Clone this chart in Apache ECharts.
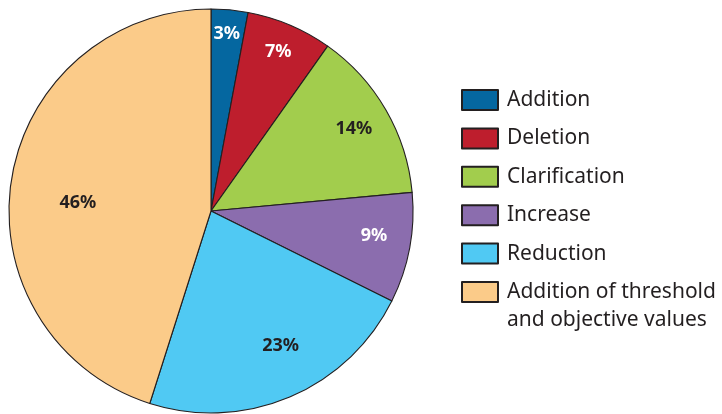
<!DOCTYPE html>
<html>
<head>
<meta charset="utf-8">
<script src="https://cdn.jsdelivr.net/npm/echarts@6/dist/echarts.min.js"></script>
<style>
html,body{margin:0;padding:0;background:#fff;}
#chart{width:722px;height:414px;}
</style>
</head>
<body>
<div id="chart"></div>
<script>
const categories = ['Addition', 'Deletion', 'Clarification', 'Increase', 'Reduction', 'Addition of threshold\nand objective values'];
const values = [3, 7, 14, 9, 23, 46];
const colors = ['#0567a0', '#be1e2d', '#a2cd4d', '#8b6dae', '#50c9f3', '#fbcb89'];
const labelColors = ['#ffffff', '#ffffff', '#231f20', '#ffffff', '#231f20', '#231f20'];
const labelFrac = [0.881, 0.854, 0.817, 0.816, 0.751, 0.66];
const labelAngleShift = [-0.2, 0, 0, -2, -4.4, -5.2];

const CX = 211, CY = 211, R = 202;
const total = values.reduce((a, b) => a + b, 0);

const chart = echarts.init(document.getElementById('chart'), null, {renderer: 'canvas'});
const data = categories.map((name, i) => ({
  name: name,
  value: values[i],
  itemStyle: {color: colors[i]},
  label: {color: labelColors[i]}
}));

const legendText = {
  fontFamily: 'Noto Sans',
  fontSize: 21,
  color: '#231f20',
  lineHeight: 28,
  padding: [0, 0, 0, 4]
};
const lastName = categories[categories.length - 1];

chart.setOption({
  animation: false,
  backgroundColor: '#ffffff',
  legend: [{
    orient: 'vertical',
    left: 461,
    top: 86,
    padding: 0,
    itemWidth: 36,
    itemHeight: 20,
    itemGap: 10.4,
    icon: 'rect',
    selectedMode: false,
    textStyle: legendText,
    data: categories.slice(0, categories.length - 1)
  }, {
    orient: 'vertical',
    left: 461,
    top: 250,
    padding: 0,
    itemWidth: 36,
    itemHeight: 20,
    icon: 'rect',
    selectedMode: false,
    textStyle: legendText,
    formatter: function (name) { return '\n' + name; },
    data: [lastName]
  }],
  series: [{
    type: 'pie',
    center: [CX, CY],
    radius: [0, R],
    startAngle: 90,
    clockwise: true,
    itemStyle: {borderColor: '#231f20', borderWidth: 1.1},
    emphasis: {disabled: true},
    label: {
      show: true,
      position: 'inside',
      formatter: '{c}%',
      fontFamily: 'Noto Sans',
      fontWeight: 'bold',
      fontSize: 18
    },
    labelLine: {show: false},
    labelLayout: function (p) {
      const i = p.dataIndex;
      let before = 0;
      for (let j = 0; j < i; j++) before += values[j];
      const mid = (before + values[i] / 2) / total * 2 * Math.PI + labelAngleShift[i] * Math.PI / 180;
      const r = R * labelFrac[i];
      return {
        x: CX + r * Math.sin(mid),
        y: CY - r * Math.cos(mid),
        align: 'center',
        verticalAlign: 'middle'
      };
    },
    data: data
  }]
});
</script>
</body>
</html>
